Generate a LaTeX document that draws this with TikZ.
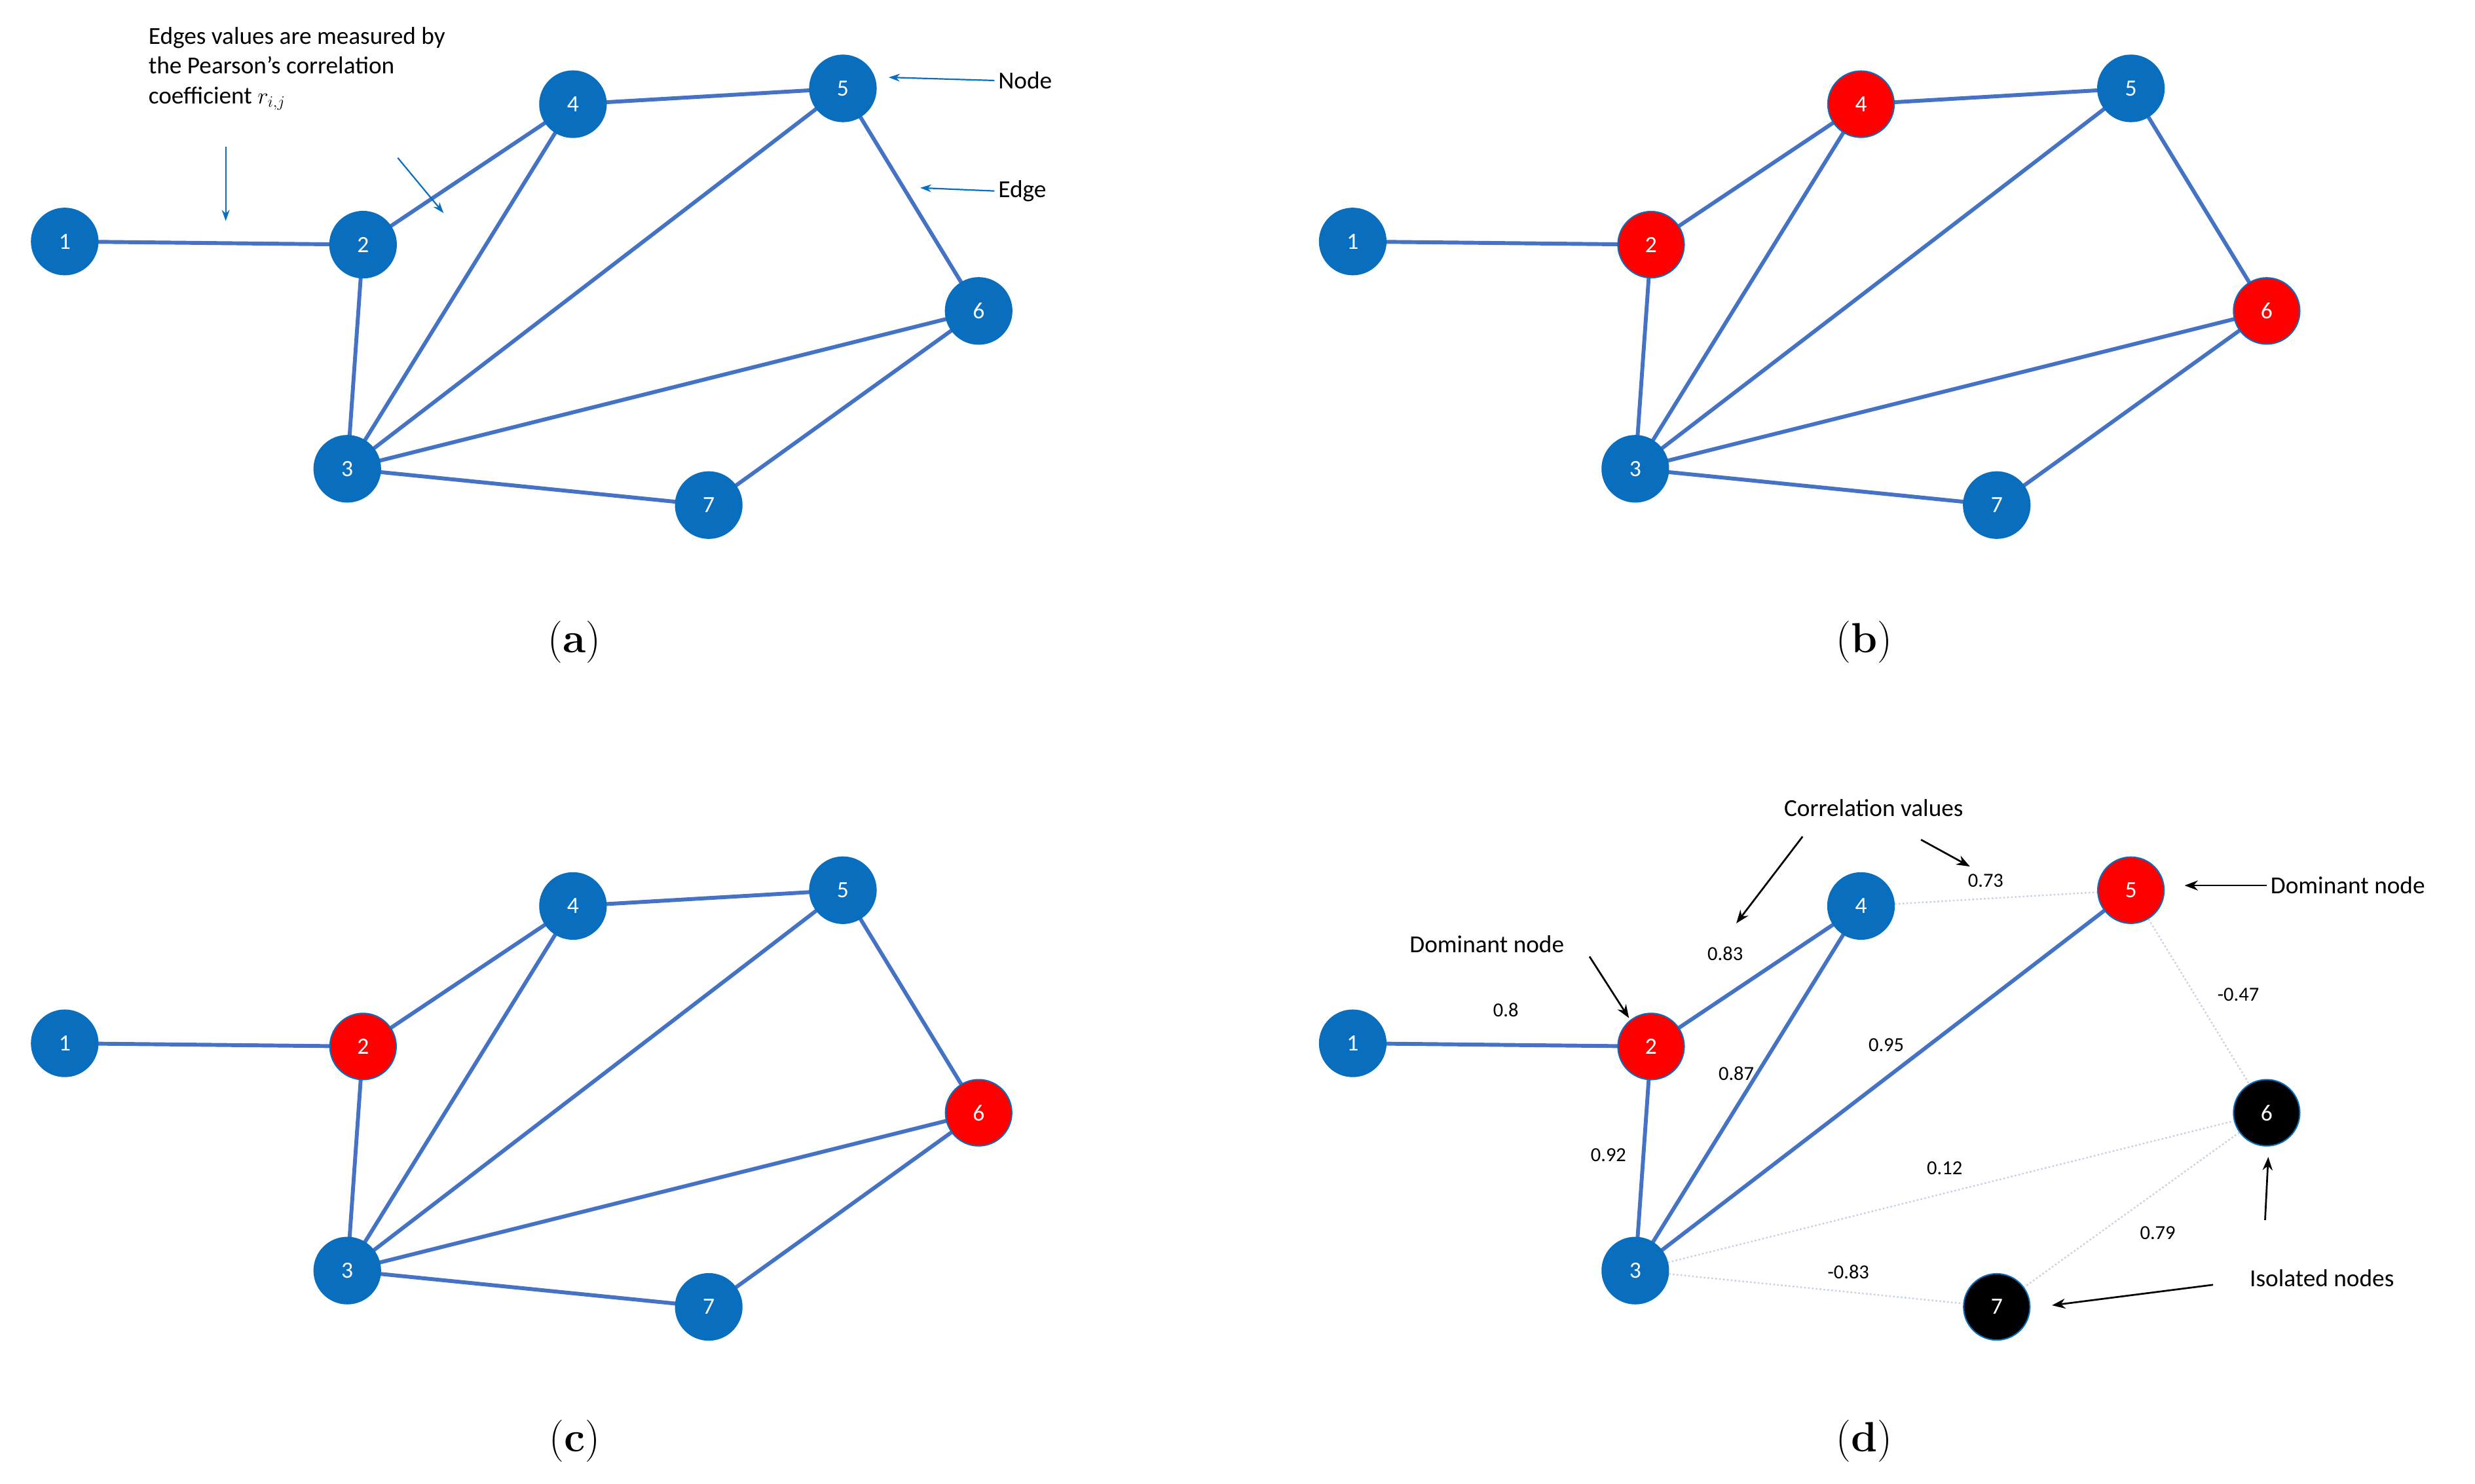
\documentclass[tikz,border=0pt]{standalone}
\usepackage{fontspec}
\setmainfont{Carlito}
\newfontfamily\capfont{Latin Modern Roman}
\usetikzlibrary{arrows.meta,backgrounds}
\definecolor{nblue}{RGB}{10,110,190}
\definecolor{eblue}{RGB}{68,114,196}
\definecolor{nred}{RGB}{255,0,0}
\definecolor{faint}{RGB}{200,210,230}
\begin{document}
\begin{tikzpicture}[x=0.05cm,y=-0.05cm,
  nd/.style={circle,minimum size=2.1cm,inner sep=0pt,fill=nblue,draw=nblue,line width=1.2pt,text=white,font=\fontsize{21}{24}\selectfont},
  rd/.style={nd,fill=nred},
  bd/.style={nd,fill=black},
  ed/.style={draw=eblue,line width=3.5pt},
  fe/.style={draw=faint,line width=1.5pt,dotted},
  lab/.style={font=\fontsize{22}{27}\selectfont,text=black},
  val/.style={font=\fontsize{18}{22}\selectfont,text=black},
  captxt/.style={font=\capfont\fontsize{38}{44}\selectfont},
  barr/.style={draw=nblue,line width=1.3pt,-{Stealth[length=10pt,width=7pt]}},
  karr/.style={draw=black,line width=1.6pt,-{Stealth[length=12pt,width=9pt]}}]
\useasboundingbox (0,0) rectangle (1568,940);
\foreach \p/\dx/\dy/\ca/\cb/\cc/\cd/\ce/\cf/\cg in {
  a/0/0/nd/nd/nd/nd/nd/nd/nd,
  b/816/0/nd/rd/nd/rd/nd/rd/nd,
  c/0/508/nd/rd/nd/nd/nd/rd/nd,
  d/816/508/nd/rd/nd/nd/rd/bd/bd}{
  \node[\ca] (\p1) at (41+\dx,153+\dy) {1};
  \node[\cb] (\p2) at (230+\dx,155+\dy) {2};
  \node[\cc] (\p3) at (220+\dx,297+\dy) {3};
  \node[\cd] (\p4) at (363+\dx,66+\dy) {4};
  \node[\ce] (\p5) at (534+\dx,56+\dy) {5};
  \node[\cf] (\p6) at (620+\dx,197+\dy) {6};
  \node[\cg] (\p7) at (449+\dx,320+\dy) {7};
}
\begin{pgfonlayer}{background}
\foreach \p in {a,b,c}{
  \draw[ed] (\p1.center)--(\p2.center); \draw[ed] (\p2.center)--(\p4.center); \draw[ed] (\p2.center)--(\p3.center);
  \draw[ed] (\p4.center)--(\p5.center); \draw[ed] (\p3.center)--(\p4.center); \draw[ed] (\p3.center)--(\p5.center);
  \draw[ed] (\p5.center)--(\p6.center); \draw[ed] (\p3.center)--(\p6.center); \draw[ed] (\p6.center)--(\p7.center);
  \draw[ed] (\p3.center)--(\p7.center);
}
\draw[ed] (d1.center)--(d2.center); \draw[ed] (d2.center)--(d4.center); \draw[ed] (d2.center)--(d3.center);
\draw[ed] (d3.center)--(d4.center); \draw[ed] (d3.center)--(d5.center);
\end{pgfonlayer}
\draw[fe] (d4)--(d5); \draw[fe] (d5)--(d6); \draw[fe] (d3)--(d6);
\draw[fe] (d6)--(d7); \draw[fe] (d3)--(d7);
% captions
\node[captxt] (ca) at (364,407) {(\textbf{a})};
\node[captxt] (cb) at (1181,407) {(\textbf{b})};
\node[captxt] (cc) at (364,913) {(\textbf{c})};
\node[captxt] (cd) at (1181,913) {(\textbf{d})};
% panel a annotations
\node[lab,align=left,anchor=north west,inner sep=0pt] (ann) at (94,17) {Edges values are measured by\\the Pearson’s correlation\\coefficient $r_{i,j}$};
\coordinate (a1s) at (143,93); \coordinate (a1e) at (143,140);
\coordinate (a2s) at (252,100); \coordinate (a2e) at (281,135);
\draw[barr] (a1s)--(a1e); \draw[barr] (a2s)--(a2e);
\node[lab,anchor=west] (nodel) at (630,51) {Node};
\node[lab,anchor=west] (edgel) at (630,121) {Edge};
\coordinate (ne) at (563,49); \coordinate (ee) at (583,119);
\draw[barr] (nodel.west)--(ne); \draw[barr] (edgel.west)--(ee);
% panel d annotations
\node[lab] (corr) at (1187,512) {Correlation values};
\node[val] (v73) at (1258,558) {0.73};
\node[val] (v83) at (1093,604) {0.83};
\node[val] (v8) at (954,640) {0.8};
\node[val] (v87) at (1100,680) {0.87};
\node[val] (v95) at (1195,662) {0.95};
\node[val] (v92) at (1019,732) {0.92};
\node[val] (v12) at (1232,740) {0.12};
\node[val] (v47) at (1418,630) {-0.47};
\node[val] (v79) at (1367,781) {0.79};
\node[val] (vm83) at (1171,806) {-0.83};
\node[lab] (dom1) at (942,598) {Dominant node};
\node[lab,anchor=west] (dom2) at (1436,561) {Dominant node};
\node[lab] (iso) at (1471,810) {Isolated nodes};
\coordinate (c1s) at (1142,530); \coordinate (c1e) at (1100,585);
\coordinate (c2s) at (1217,532); \coordinate (c2e) at (1248,549);
\draw[karr] (c1s)--(c1e); \draw[karr] (c2s)--(c2e);
\coordinate (d1s) at (1007,606); \coordinate (d1e) at (1032,645);
\draw[karr] (d1s)--(d1e);
\coordinate (d2e) at (1384,561);
\draw[karr] (dom2.west)--(d2e);
\coordinate (i1s) at (1435,773); \coordinate (i1e) at (1437,733);
\coordinate (i2s) at (1402,814); \coordinate (i2e) at (1300,827);
\draw[karr] (i1s)--(i1e); \draw[karr] (i2s)--(i2e);
\end{tikzpicture}
\end{document}
